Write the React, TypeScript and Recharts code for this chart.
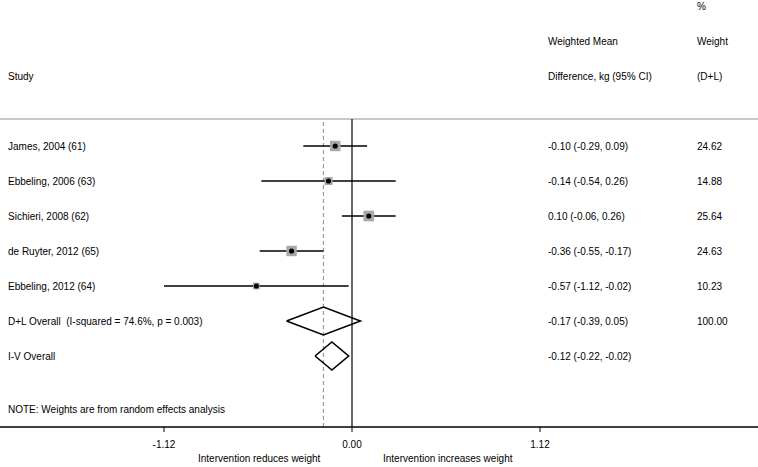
import {
  ComposedChart,
  Scatter,
  ErrorBar,
  XAxis,
  YAxis,
  ReferenceLine,
} from "recharts"

const studies = [
  "James, 2004 (61)",
  "Ebbeling, 2006 (63)",
  "Sichieri, 2008 (62)",
  "de Ruyter, 2012 (65)",
  "Ebbeling, 2012 (64)",
]
const estimates = [-0.1, -0.14, 0.1, -0.36, -0.57]
const lower = [-0.29, -0.54, -0.06, -0.55, -1.12]
const upper = [0.09, 0.26, 0.26, -0.17, -0.02]
const weights = [24.62, 14.88, 25.64, 24.63, 10.23]

const overallLabels = ["D+L Overall  (I-squared = 74.6%, p = 0.003)", "I-V Overall"]
const overallEst = [-0.17, -0.12]
const overallLower = [-0.39, -0.22]
const overallUpper = [0.05, -0.02]
const overallWeight = ["100.00", ""]

const note = "NOTE: Weights are from random effects analysis"
const xTicks = [-1.12, 0, 1.12]

const FONT = "'Liberation Sans', Arial, sans-serif"
const W = 758
const H = 467
// plot frame: x pixel = 352 + v * 188/1.12, rows 35px apart
const PX_PER_UNIT = 188 / 1.12
const X_DOMAIN = [-352 / PX_PER_UNIT, (W - 352) / PX_PER_UNIT]
const Y_DOMAIN = [-27 / 35, 281 / 35]
const NOTE_ROW = 7.54
const DIAMOND_H = 0.4

const fmt = (v: number) => v.toFixed(2)
const ciText = (e: number, l: number, u: number) => `${fmt(e)} (${fmt(l)}, ${fmt(u)})`

const studyData = studies.map((name, i) => ({
  x: estimates[i],
  row: i,
  name,
  weight: weights[i],
  err: [estimates[i] - lower[i], upper[i] - estimates[i]],
}))

// text rows; x is only a placeholder inside the domain, columns are fixed
const rowLabels = [
  ...studies.map((s, i) => ({
    x: 0,
    row: i,
    label: s,
    ci: ciText(estimates[i], lower[i], upper[i]),
    w: fmt(weights[i]),
  })),
  ...overallLabels.map((s, i) => ({
    x: 0,
    row: studies.length + i,
    label: s,
    ci: ciText(overallEst[i], overallLower[i], overallUpper[i]),
    w: overallWeight[i],
  })),
  { x: 0, row: NOTE_ROW, label: note, ci: "", w: "" },
]

const diamonds = overallEst.map((e, i) => {
  const r = studies.length + i
  return [
    { x: overallLower[i], row: r },
    { x: e, row: r - DIAMOND_H },
    { x: overallUpper[i], row: r },
    { x: e, row: r + DIAMOND_H },
    { x: overallLower[i], row: r },
  ]
})

function StudyMarker(props: any) {
  const { cx, cy, payload } = props
  const side = 2.1 * Math.sqrt(payload.weight)
  return (
    <g>
      <rect x={cx - side / 2} y={cy - side / 2} width={side} height={side} fill="#a8a8a8" />
      <circle cx={cx} cy={cy} r={2.6} fill="#000" />
    </g>
  )
}

function RowText(props: any) {
  const { cy, payload } = props
  const style = { fontSize: 10, fontFamily: FONT, whiteSpace: "pre" as const }
  return (
    <g>
      <text x={8} y={cy} dominantBaseline="central" fill="#000" style={style}>
        {payload.label}
      </text>
      {payload.ci && (
        <text x={548} y={cy} dominantBaseline="central" fill="#000" style={style}>
          {payload.ci}
        </text>
      )}
      {payload.w && (
        <text x={697} y={cy} dominantBaseline="central" fill="#000" style={style}>
          {payload.w}
        </text>
      )}
    </g>
  )
}

const headers = [
  { text: "%", x: 697, y: 7 },
  { text: "Weighted Mean", x: 548, y: 42 },
  { text: "Weight", x: 697, y: 42 },
  { text: "Study", x: 8, y: 77 },
  { text: "Difference, kg (95% CI)", x: 548, y: 77 },
  { text: "(D+L)", x: 697, y: 77 },
]

export default function App() {
  return (
    <div style={{ position: "absolute", left: 0, top: 0, width: W, height: H, background: "#fff" }}>
      <ComposedChart
        width={W}
        height={H}
        margin={{ top: 119, right: 0, bottom: 0, left: 0 }}
        style={{ fontFamily: FONT }}
      >
        <XAxis
          type="number"
          dataKey="x"
          domain={X_DOMAIN}
          allowDataOverflow
          ticks={xTicks}
          tickFormatter={fmt}
          height={40}
          tickSize={5}
          tickMargin={9}
          axisLine={{ stroke: "#000", strokeWidth: 1.5 }}
          tickLine={{ stroke: "#000" }}
          tick={{ fontSize: 10, fill: "#000", fontFamily: FONT }}
        />
        <YAxis
          type="number"
          dataKey="row"
          domain={Y_DOMAIN}
          allowDataOverflow
          reversed
          hide
        />
        <ReferenceLine y={Y_DOMAIN[0]} stroke="#c8c8c8" strokeWidth={2} />
        <ReferenceLine x={overallEst[0]} stroke="#999" strokeDasharray="4 3" strokeWidth={1.2} />
        <ReferenceLine x={0} stroke="#000" strokeWidth={1.2} />
        <Scatter data={studyData} shape={<StudyMarker />} isAnimationActive={false}>
          <ErrorBar dataKey="err" direction="x" width={0} stroke="#000" strokeWidth={1.6} />
        </Scatter>
        {diamonds.map((d, i) => (
          <Scatter
            key={i}
            data={d}
            line={{ stroke: "#000", strokeWidth: 1.6 }}
            shape={() => <g />}
            isAnimationActive={false}
          />
        ))}
        <Scatter data={rowLabels} shape={<RowText />} isAnimationActive={false} />
      </ComposedChart>
      {headers.map((h) => (
        <div
          key={h.text}
          style={{
            position: "absolute",
            left: h.x,
            top: h.y - 7,
            fontSize: 10,
            lineHeight: "14px",
            fontFamily: FONT,
            whiteSpace: "pre",
          }}
        >
          {h.text}
        </div>
      ))}
      <div style={{ position: "absolute", left: 0, top: 453, fontSize: 10, fontFamily: FONT }}>
        <span style={{ position: "absolute", left: 198, whiteSpace: "pre" }}>Intervention reduces weight</span>
        <span style={{ position: "absolute", left: 383, whiteSpace: "pre" }}>Intervention increases weight</span>
      </div>
    </div>
  )
}
